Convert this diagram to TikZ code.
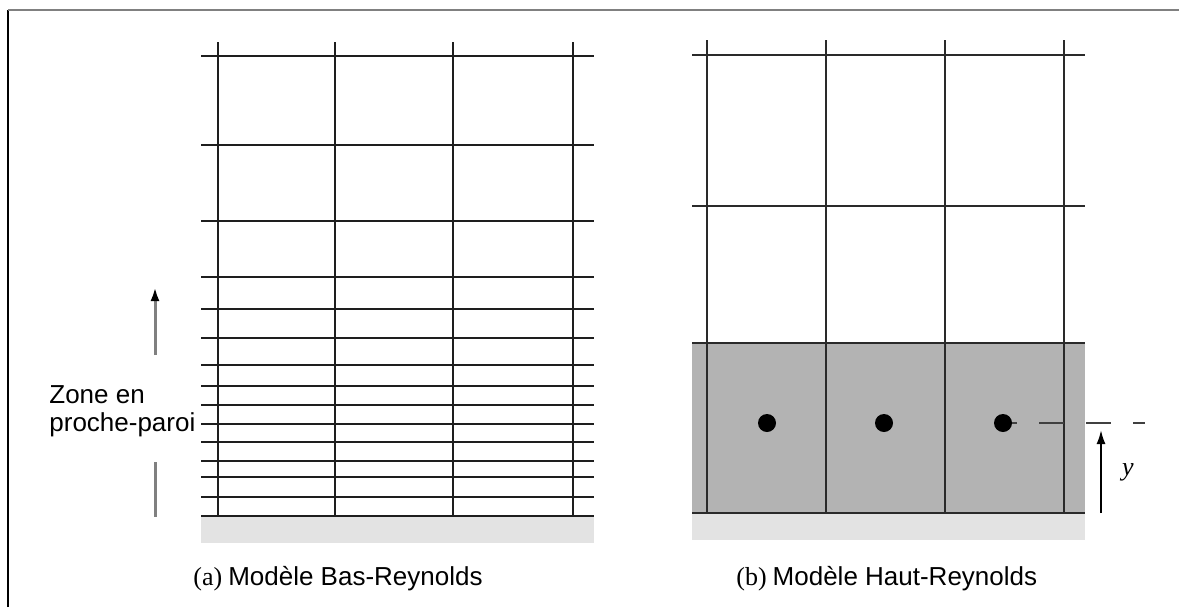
\documentclass[tikz,border=0pt]{standalone}
\usepackage{fontspec}
\setmainfont{Liberation Sans}
\newfontfamily\serifface{Liberation Serif}
\usetikzlibrary{arrows.meta}
\definecolor{gridline}{HTML}{1E1E1E}
\definecolor{gridlineb}{HTML}{2A2A2A}
\definecolor{wallgray}{HTML}{E3E3E3}
\definecolor{zonegray}{HTML}{B3B3B3}
\definecolor{arrowgray}{HTML}{808080}
\tikzset{
  gridstroke/.style={draw=gridline, line width=1pt},
  gridstrokeb/.style={draw=gridlineb, line width=1pt},
  captiontext/.style={inner sep=0pt, anchor=base west, font=\fontsize{13}{15}\selectfont},
  cellpoint/.style={circle, fill=black, minimum size=9pt, inner sep=0pt},
}
\begin{document}
\begin{tikzpicture}[x=0.5pt,y=-0.5pt]
\useasboundingbox (0,0) rectangle (1179,607);
% frame (top and left edges)
\draw[line width=1pt, black] (8,607) -- (8,10);
\draw[line width=1.2pt, arrowgray] (8,10) -- (1179,10);

% ---------- (a) low-Reynolds grid ----------
\fill[wallgray] (201,516) rectangle (594,543);
\foreach \yy in {56,145,221,277,309,338,365,386,405,424,442,461,477,497,516}
  \draw[gridstroke] (201,\yy) -- (594,\yy);
\foreach \xx in {218,335,453,573}
  \draw[gridstroke] (\xx,42) -- (\xx,516);

\coordinate (za1) at (155,355);
\coordinate (za2) at (155,287);
\coordinate (zb1) at (155,462);
\coordinate (zb2) at (155,517);
\draw[line width=1.5pt, arrowgray, -{Latex[length=7pt,width=4.5pt,color=black]}] (za1) -- (za2);
\draw[line width=1.5pt, arrowgray] (zb1) -- (zb2);
\node[captiontext] (zone1) at (49,403) {Zone en};
\node[captiontext] (zone2) at (49,431) {proche-paroi};

\node[captiontext] (capa) at (193,585) {{\serifface (a)}\hspace{3pt}Modèle Bas-Reynolds};

% ---------- (b) high-Reynolds grid ----------
\fill[wallgray] (692,513) rectangle (1085,540);
\fill[zonegray] (692,343) rectangle (1085,513);
\foreach \yy in {55,206,343,513}
  \draw[gridstrokeb] (692,\yy) -- (1085,\yy);
\foreach \xx in {707,826,945,1064}
  \draw[gridstrokeb] (\xx,40) -- (\xx,513);

\node[cellpoint] (p1) at (767,423) {};
\node[cellpoint] (p2) at (884,423) {};
\node[cellpoint] (p3) at (1003,423) {};
\coordinate (dend) at (1145,423);
\draw[line width=1pt, black!75, dash pattern=on 12.5pt off 11pt, dash phase=10pt] (p3.east) -- (dend);

\coordinate (ya) at (1101,513);
\coordinate (yb) at (1101,430);
\draw[line width=1pt, black, -{Latex[length=7pt,width=4.5pt]}] (ya) -- (yb);
\node[inner sep=0pt, font=\serifface\itshape\fontsize{13}{15}\selectfont] (ylab) at (1128,472) {y};

\node[captiontext] (capb) at (736,585) {{\serifface (b)}\hspace{3pt}Modèle Haut-Reynolds};
\end{tikzpicture}
\end{document}
